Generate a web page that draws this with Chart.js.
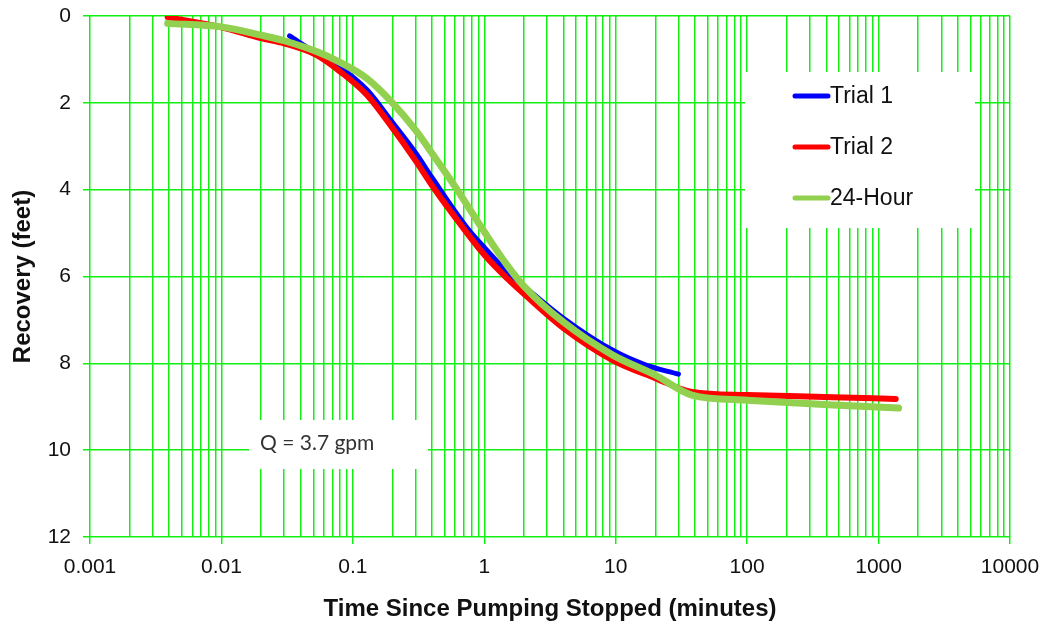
<!DOCTYPE html>
<html>
<head>
<meta charset="utf-8">
<script src="https://cdn.jsdelivr.net/npm/chart.js@4/dist/chart.umd.min.js"></script>
<style>
  html, body { margin: 0; padding: 0; background: #fff; }
  #wrap { width: 1047px; height: 624px; }
</style>
</head>
<body>
<div id="wrap"><canvas id="recoveryChart" width="1047" height="624"></canvas></div>
<script>
// time since pumping stopped (minutes) and recovery (feet)
const trial1Time = [0.033, 0.053, 0.08, 0.128, 0.2, 0.3, 0.4, 0.75, 1.0, 1.5, 2, 4, 9.5, 17, 30];
const trial1Recovery = [0.46, 0.86, 1.18, 1.7, 2.45, 3.15, 3.72, 4.9, 5.33, 5.9, 6.22, 6.96, 7.7, 8.04, 8.25];

const trial2Time = [0.0039, 0.01, 0.02, 0.03, 0.053, 0.08, 0.128, 0.2, 0.3, 0.41, 0.74, 1.0, 1.5, 2, 4, 9.5, 20, 38, 100, 450, 1350];
const trial2Recovery = [0.03, 0.26, 0.51, 0.63, 0.9, 1.28, 1.82, 2.58, 3.33, 3.95, 5.0, 5.5, 6.05, 6.4, 7.19, 7.93, 8.34, 8.66, 8.73, 8.78, 8.82];

const dayTime = [0.0039, 0.01, 0.02, 0.03, 0.053, 0.08, 0.128, 0.2, 0.3, 0.4, 0.6, 1.0, 1.5, 2, 4, 9.5, 20, 38, 100, 450, 1420];
const dayRecovery = [0.17, 0.25, 0.44, 0.57, 0.82, 1.07, 1.44, 2.0, 2.63, 3.16, 3.93, 4.97, 5.75, 6.22, 7.05, 7.81, 8.27, 8.73, 8.85, 8.96, 9.03];

const seriesLabels = ['Trial 1', 'Trial 2', '24-Hour'];
const xTickValues = [0.001, 0.01, 0.1, 1, 10, 100, 1000, 10000];
const yTickValues = [0, 2, 4, 6, 8, 10, 12];
const noteText = 'Q = 3.7 gpm';

const gridGreen = '#11f011';

function toPoints(xs, ys) {
    return xs.map((x, i) => ({ x: x, y: ys[i] }));
}

function majorLabel(v) {
    return xTickValues.find(t => Math.abs(t - v) / t < 1e-6);
}

// white boxes for the legend and the note, then the legend entries
const overlays = {
    id: 'overlays',
    beforeDatasetsDraw(chart) {
        const ctx = chart.ctx;
        const area = chart.chartArea;
        ctx.save();
        ctx.fillStyle = '#ffffff';
        ctx.fillRect(area.left + 655, area.top + 56, 230, 156);
        ctx.fillRect(area.left + 159, area.top + 404, 179, 49);

        ctx.fillStyle = '#333333';
        ctx.font = '21px Lato';
        ctx.textBaseline = 'middle';
        ctx.textAlign = 'left';
        ctx.fillText(noteText, area.left + 170, area.top + 427);
        ctx.restore();
    },
    afterDatasetsDraw(chart) {
        const ctx = chart.ctx;
        const area = chart.chartArea;
        ctx.save();
        ctx.font = '23px "Liberation Sans", Arial, sans-serif';
        ctx.textBaseline = 'middle';
        ctx.textAlign = 'left';
        ctx.lineCap = 'round';
        chart.data.datasets.forEach((ds, i) => {
            const y = area.top + 80 + i * 51;
            const x0 = area.left + 705;
            ctx.strokeStyle = ds.borderColor;
            ctx.lineWidth = 5;
            ctx.beginPath();
            ctx.moveTo(x0, y);
            ctx.lineTo(x0 + 33, y);
            ctx.stroke();
            ctx.fillStyle = '#111111';
            ctx.fillText(ds.label, x0 + 35, y + 1);
        });
        ctx.restore();
    }
};

const ctx = document.getElementById('recoveryChart');

new Chart(ctx, {
    type: 'line',
    data: {
        datasets: [
            {
                label: seriesLabels[0],
                data: toPoints(trial1Time, trial1Recovery),
                borderColor: '#0000ff',
                borderWidth: 5,
                order: 2
            },
            {
                label: seriesLabels[1],
                data: toPoints(trial2Time, trial2Recovery),
                borderColor: '#ff0000',
                borderWidth: 6,
                order: 1
            },
            {
                label: seriesLabels[2],
                data: toPoints(dayTime, dayRecovery),
                borderColor: '#92d050',
                borderWidth: 7,
                order: 0
            }
        ]
    },
    options: {
        responsive: false,
        animation: false,
        layout: { padding: { left: 0, top: 16, right: 37, bottom: 0 } },
        elements: {
            point: { radius: 0 },
            line: { cubicInterpolationMode: 'monotone', borderCapStyle: 'round', borderJoinStyle: 'round' }
        },
        plugins: {
            legend: { display: false },
            tooltip: { enabled: false }
        },
        scales: {
            x: {
                type: 'logarithmic',
                min: 0.001,
                max: 10000,
                afterFit: (s) => {
                    s.height = 87;
                    s.paddingLeft = 0;
                    s.paddingRight = 0;
                },
                afterBuildTicks: (s) => {
                    const ticks = [];
                    for (let e = -3; e < 4; e++) {
                        for (let m = 1; m < 10; m++) ticks.push({ value: m * Math.pow(10, e) });
                    }
                    ticks.push({ value: 10000 });
                    s.ticks = ticks;
                },
                grid: {
                    color: gridGreen,
                    lineWidth: 1.5,
                    tickLength: 7,
                    tickColor: (c) => (c.tick && majorLabel(c.tick.value) !== undefined) ? gridGreen : 'rgba(0,0,0,0)'
                },
                border: { display: false },
                ticks: {
                    autoSkip: false,
                    maxRotation: 0,
                    padding: 11,
                    color: '#111111',
                    font: { family: '"Liberation Sans", Arial, sans-serif', size: 21 },
                    callback: (v) => {
                        const t = majorLabel(v);
                        return t !== undefined ? String(t) : '';
                    }
                },
                title: {
                    display: true,
                    text: 'Time Since Pumping Stopped (minutes)',
                    color: '#111111',
                    font: { family: '"Liberation Sans", Arial, sans-serif', size: 24, weight: 'bold' },
                    padding: { top: 0, bottom: 0 }
                }
            },
            y: {
                type: 'linear',
                reverse: true,
                min: yTickValues[0],
                max: yTickValues[yTickValues.length - 1],
                afterFit: (s) => {
                    s.width = 90;
                    s.paddingTop = 0;
                    s.paddingBottom = 0;
                },
                grid: { color: gridGreen, lineWidth: 1.5, tickLength: 7, tickColor: gridGreen },
                border: { display: false },
                ticks: {
                    stepSize: 2,
                    padding: 12,
                    color: '#111111',
                    font: { family: '"Liberation Sans", Arial, sans-serif', size: 21 }
                },
                title: {
                    display: true,
                    text: 'Recovery (feet)',
                    color: '#111111',
                    font: { family: '"Liberation Sans", Arial, sans-serif', size: 24, weight: 'bold' },
                    padding: { top: 9, bottom: 0 }
                }
            }
        }
    },
    plugins: [overlays]
});
</script>
</body>
</html>
